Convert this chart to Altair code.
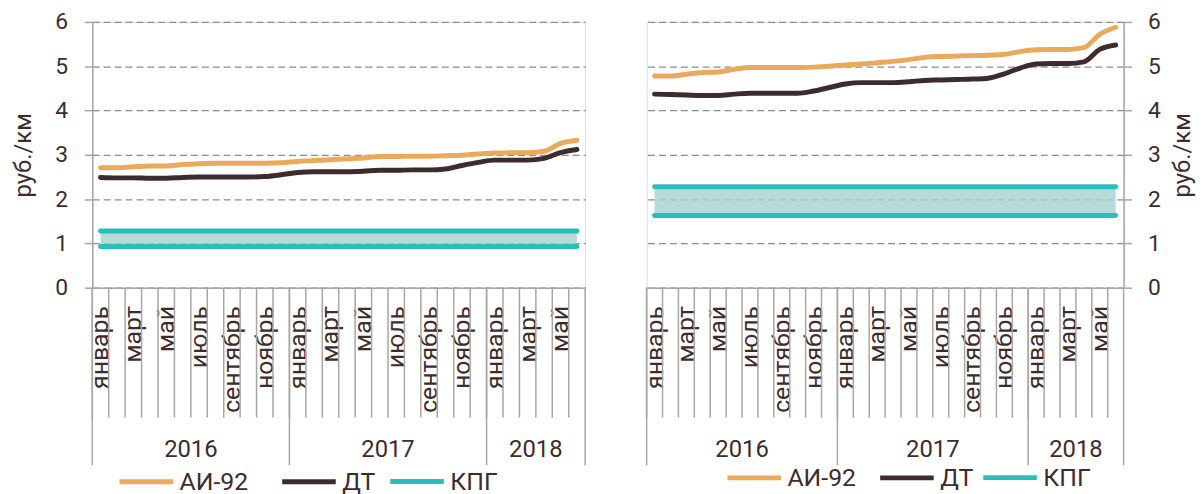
import json
import altair as alt
import pandas as pd

# ---------------- data ----------------
month_names = ["январь", "февраль", "март", "апрель", "май", "июнь",
               "июль", "август", "сентябрь", "октябрь", "ноябрь", "декабрь"]
year_labels = ["2016", "2017", "2018"]
year_start_month = [0, 12, 24]          # first month index of each year
year_centre_month = [5, 17, 26]         # month whose band end is the centre of the year block
n_months = 30                           # январь 2016 .. июнь 2018
fuel_names = ["АИ-92", "ДТ"]
fuel_colors = ["#EAA95C", "#3E2C2D"]
gas_name = "КПГ"
gas_color = "#27BEBB"
y_ticks = [0, 1, 2, 3, 4, 5, 6]

ai92_left = [2.71, 2.71, 2.73, 2.75, 2.75, 2.78, 2.80, 2.81, 2.81, 2.81, 2.81, 2.82,
             2.85, 2.87, 2.89, 2.91, 2.93, 2.96, 2.96, 2.97, 2.97, 2.98, 2.99, 3.02,
             3.04, 3.05, 3.05, 3.08, 3.26, 3.33]
dt_left = [2.49, 2.48, 2.48, 2.47, 2.47, 2.49, 2.50, 2.50, 2.50, 2.50, 2.51, 2.55,
           2.60, 2.62, 2.62, 2.62, 2.63, 2.65, 2.65, 2.66, 2.66, 2.68, 2.76, 2.83,
           2.88, 2.88, 2.88, 2.92, 3.05, 3.12]
kpg_left = [0.93, 1.28]   # lower / upper bound

ai92_right = [4.78, 4.78, 4.82, 4.86, 4.87, 4.93, 4.97, 4.97, 4.97, 4.97, 4.98, 5.00,
              5.03, 5.05, 5.08, 5.11, 5.15, 5.20, 5.22, 5.23, 5.24, 5.25, 5.27, 5.33,
              5.37, 5.38, 5.38, 5.42, 5.72, 5.88]
dt_right = [4.37, 4.36, 4.35, 4.34, 4.34, 4.37, 4.39, 4.39, 4.39, 4.39, 4.44, 4.52,
            4.60, 4.63, 4.63, 4.63, 4.65, 4.68, 4.69, 4.70, 4.71, 4.73, 4.83, 4.96,
            5.05, 5.06, 5.06, 5.10, 5.38, 5.48]
kpg_right = [1.63, 2.28]

# ---------------- style ----------------
FONT = "Roboto"
TXT = "#3E2C2D"
AXIS_GREY = "#A6A6A6"
H = 268

names_js = json.dumps(month_names, ensure_ascii=False)
label_expr = f"datum.value % 2 == 0 ? {names_js}[datum.value % 12] : ''"


def legend(x, y, col_pad):
    return alt.Legend(orient="none", legendX=x, legendY=y, direction="horizontal",
                      title=None, symbolType="stroke", symbolSize=2916,
                      symbolStrokeWidth=5, labelFont=FONT, labelFontSize=25,
                      labelColor=TXT, labelOffset=4, columnPadding=col_pad, padding=0)


def panel(ai, dt, kpg, width, orient, leg_x, leg_pad, gas_leg_x, leg_y,
          title_pad, label_pad):
    rows = []
    for i in range(n_months):
        rows.append({"m": i, "v": ai[i], "s": fuel_names[0]})
        rows.append({"m": i, "v": dt[i], "s": fuel_names[1]})
    fuel_df = pd.DataFrame(rows)
    gas_rows = []
    for i in range(n_months):
        gas_rows.append({"m": i, "v": kpg[0], "s": gas_name, "p": "lo"})
        gas_rows.append({"m": i, "v": kpg[1], "s": gas_name, "p": "hi"})
    gas_df = pd.DataFrame(gas_rows)
    band_df = pd.DataFrame({"m": list(range(n_months)),
                            "lo": [kpg[0]] * n_months, "hi": [kpg[1]] * n_months})
    months_df = pd.DataFrame({"m": list(range(n_months))})
    end_df = pd.DataFrame({"m": [n_months - 1]})
    ysep_df = pd.DataFrame({"m": year_start_month})
    ylab_df = pd.DataFrame({"m": year_centre_month, "label": year_labels})

    xscale = alt.Scale(type="band", domain=list(range(n_months)),
                       paddingInner=0, paddingOuter=0)
    xaxis = alt.Axis(ticks=False, domain=True, domainColor=AXIS_GREY, domainWidth=1.5,
                     grid=False, labelAngle=270, labelExpr=label_expr, labelOverlap=False,
                     labelFont=FONT, labelFontSize=25, labelColor=TXT, labelPadding=18,
                     title=None)
    yscale = alt.Scale(domain=[0, 6], nice=False, zero=True)
    yaxis_kw = dict(orient=orient, values=y_ticks, grid=True, gridDash=[7, 4],
                    gridColor="#8C8C8C", gridWidth=1.3, domainColor=AXIS_GREY,
                    domainWidth=1.5, tickColor=AXIS_GREY, tickWidth=1.5, tickSize=8,
                    labelFont=FONT, labelFontSize=23, labelColor=TXT,
                    labelPadding=label_pad,
                    title="руб./км", titleFont=FONT, titleFontSize=24,
                    titleFontWeight="normal", titleColor=TXT, titlePadding=title_pad,
                    titleAngle=270)
    if orient == "right":
        yaxis_kw["titleBaseline"] = "top"
    yaxis = alt.Axis(**yaxis_kw)

    def X(bp=None):
        if bp is None:
            return alt.X("m:O", scale=xscale, axis=xaxis)
        return alt.X("m:O", scale=xscale, axis=xaxis, bandPosition=bp)

    band = alt.Chart(band_df).mark_area(color="#A6D1D0", opacity=0.8).encode(
        x=X(), y=alt.Y("lo:Q", scale=yscale, axis=yaxis), y2="hi:Q")

    gas_lines = alt.Chart(gas_df).mark_line(strokeWidth=5, strokeCap="round").encode(
        x=X(),
        y=alt.Y("v:Q", scale=yscale, axis=yaxis),
        stroke=alt.Stroke("s:N", scale=alt.Scale(domain=[gas_name], range=[gas_color]),
                          legend=legend(gas_leg_x, leg_y, 0)),
        detail="p:N")

    fuel_lines = alt.Chart(fuel_df).mark_line(
        interpolate="monotone", strokeWidth=5, strokeCap="round").encode(
        x=X(),
        y=alt.Y("v:Q", scale=yscale, axis=yaxis),
        color=alt.Color("s:N", scale=alt.Scale(domain=fuel_names, range=fuel_colors),
                        legend=legend(leg_x, leg_y, leg_pad)))

    month_rules = alt.Chart(months_df).mark_rule(color=AXIS_GREY, strokeWidth=1.5).encode(
        x=X(0), y=alt.value(H), y2=alt.value(H + 131))
    end_rule = alt.Chart(end_df).mark_rule(color=AXIS_GREY, strokeWidth=1.5).encode(
        x=X(1), y=alt.value(H), y2=alt.value(H + 179))
    year_rules = alt.Chart(ysep_df).mark_rule(color=AXIS_GREY, strokeWidth=1.5).encode(
        x=X(0), y=alt.value(H), y2=alt.value(H + 179))
    year_text = alt.Chart(ylab_df).mark_text(
        font=FONT, fontSize=24, color=TXT, align="center", baseline="middle").encode(
        x=X(1), y=alt.value(H + 164), text="label:N")

    return alt.layer(band, gas_lines, fuel_lines, month_rules, end_rule, year_rules,
                     year_text).properties(width=width, height=H)


left = panel(ai92_left, dt_left, kpg_left, 497, "left", 25, 23, 298, 434, 19, 17)
right = panel(ai92_right, dt_right, kpg_right, 481, "right", 79, 13, 337, 430, 11, 16)

chart = alt.hconcat(left, right, spacing=52).resolve_scale(
    color="independent", stroke="independent").properties(
    padding={"left": 3, "top": 0, "right": 0, "bottom": 0}
).configure_view(stroke=None).configure(background="white")

chart.save("out.html", embed_options={"renderer": "svg", "actions": False})
